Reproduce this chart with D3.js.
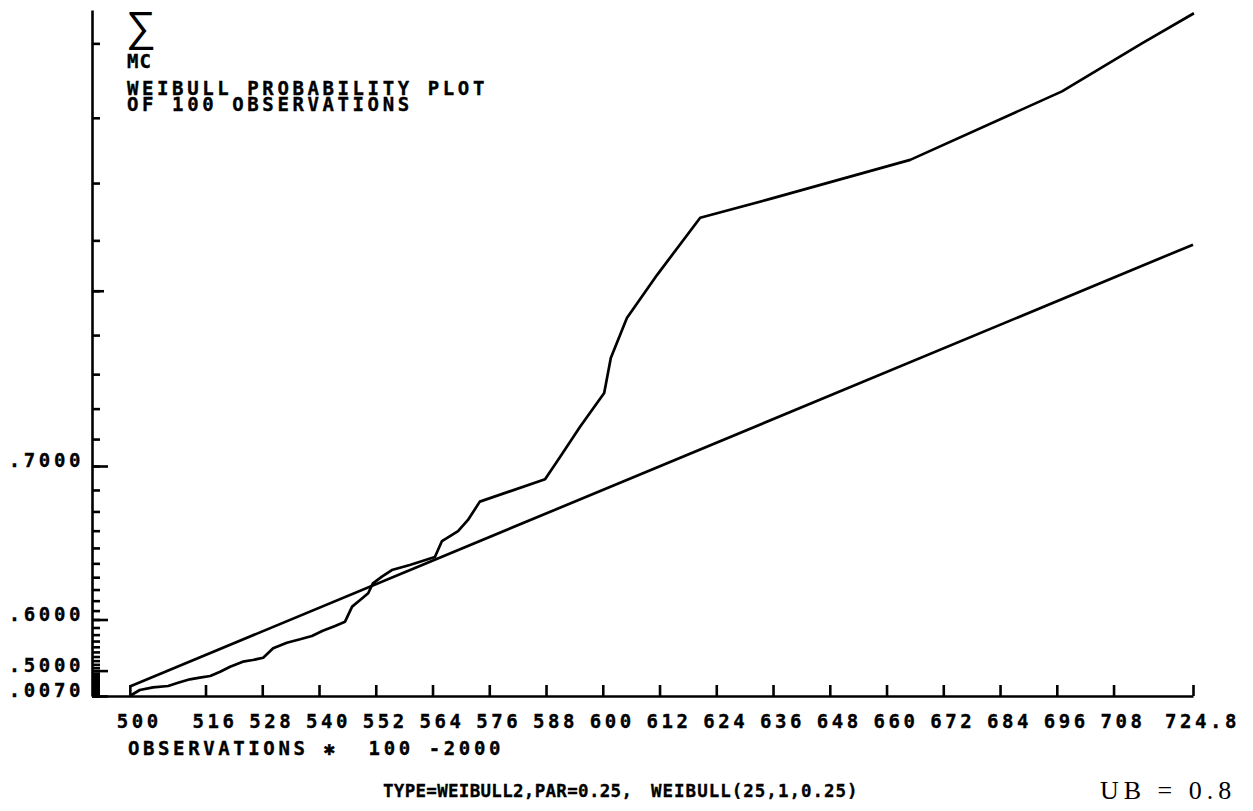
<!DOCTYPE html>
<html><head><meta charset="utf-8">
<script src="https://cdn.jsdelivr.net/npm/d3@7"></script>
<style>
html,body{margin:0;padding:0;background:#fff;}
svg{display:block;background:#fff;}
text{fill:#000;}
.lbl{font-family:"DejaVu Sans Mono",monospace;font-weight:bold;font-size:19px;letter-spacing:3.6px;stroke:#000;stroke-width:0.35px;}
.small{font-family:"DejaVu Sans Mono",monospace;font-weight:bold;font-size:17.5px;letter-spacing:0.3px;stroke:#000;stroke-width:0.3px;}
.serif{font-family:"Liberation Serif",serif;font-size:26px;letter-spacing:5px;}
.sigma{font-family:"Liberation Sans","DejaVu Sans",sans-serif;font-size:42px;}
.axis path,.axis line{stroke:#000;stroke-width:2.6px;}
</style></head><body>
<svg id="chart" width="1253" height="811"></svg>
<script>
// ---- data ----
const xTickValues = [500,516,528,540,552,564,576,588,600,612,624,636,648,660,672,684,696,708,724.8];
const xTickLabels = ["500","516","528","540","552","564","576","588","600","612","624","636","648","660","672","684","696","708","724.8"];
const yLabelValues = [0.007,0.5,0.6,0.7];
const yLabelTexts = [".0070",".5000",".6000",".7000"];
const yMediumTicks = [0.75];
const yMinorTicks = d3.range(1,80).map(i=>i/100);
// empirical curve (observation value, cumulative probability)
const curveX = [500.0,502.1,504.9,508.1,510.2,512.7,514.8,517.0,519.1,521.2,523.9,526.0,528.2,530.3,533.2,536.0,538.5,540.8,543.4,545.5,547.0,548.7,550.4,551.4,553.3,555.4,559.2,564.5,566.0,569.4,571.5,574.0,587.8,591.0,595.2,600.3,601.7,605.1,611.5,620.6,635.6,665.0,697.1,714.0,725.0];
const curveP = [0.0070,0.3700,0.4033,0.4159,0.4415,0.4621,0.4704,0.4784,0.4960,0.5130,0.5273,0.5316,0.5372,0.5571,0.5672,0.5728,0.5780,0.5856,0.5920,0.5974,0.6141,0.6206,0.6268,0.6352,0.6404,0.6453,0.6489,0.6542,0.6641,0.6698,0.6757,0.6847,0.6946,0.7036,0.7142,0.7247,0.7343,0.7440,0.7533,0.7641,0.7674,0.7737,0.7837,0.7900,0.7937];
// fitted Weibull line
const refX = [500, 724.8];
const refP = [0.4112, 0.7592];
const titleLines = ["WEIBULL PROBABILITY PLOT","OF 100 OBSERVATIONS"];
const xTitle = "OBSERVATIONS \u2731  100 -2000";
const footer = ["TYPE=WEIBULL2,PAR=0.25,","WEIBULL(25,1,0.25)","UB = 0.8"];

(function(){
// ---- scales ----
const svg = d3.select("#chart");
const mLeft = 92, mRight = 1193, mBottom = 696, mTop = 10;
const T = p => Math.exp(11*p + 6.5*Math.pow(Math.max(0,p-0.7),2));
const yT = d3.scaleLinear().domain([T(0), T(0.7)]).range([mBottom, 466]);
yT.domain([T(0), yT.invert(mTop)]).range([mBottom, mTop]);
const y = p => yT(T(p));
const x = d3.scaleLinear().domain([492, 724.8]).range([mLeft, mRight]);

// ---- x axis ----
const xAxis = d3.axisBottom(x).tickValues(xTickValues).tickSize(-11).tickSizeOuter(0)
  .tickFormat((d,i)=>xTickLabels[i]);
const gx = svg.append("g").attr("class","axis").attr("transform",`translate(0,${mBottom})`).call(xAxis);
gx.selectAll("text").attr("class","lbl").attr("dy",null).attr("y",32).attr("x",9);

// ---- y axis (transformed scale) ----
const mkY = (vals,size,domain)=>{
  const ax = d3.axisRight(yT).tickValues(vals.map(T)).tickSize(size).tickSizeOuter(0).tickFormat("");
  const g = svg.append("g").attr("class","axis").attr("transform",`translate(${mLeft},0)`).call(ax);
  if(!domain) g.select(".domain").remove();
  return g;
};
mkY(yMinorTicks,8,true);
mkY(yMediumTicks,12,false);
mkY(yLabelValues,16,false);
svg.append("g").selectAll("text").data(yLabelValues).join("text")
  .attr("class","lbl").attr("text-anchor","end")
  .attr("x",mLeft-8).attr("y",d=>y(d)+1)
  .text((d,i)=>yLabelTexts[i]);

// ---- lines ----
const line = d3.line().x(d=>x(d[0])).y(d=>y(d[1]));
svg.append("path").datum(refX.map((v,i)=>[v,refP[i]]))
  .attr("d",line).attr("fill","none").attr("stroke","#000").attr("stroke-width",2.7);
svg.append("path").datum(curveX.map((v,i)=>[v,curveP[i]]))
  .attr("d",line).attr("fill","none").attr("stroke","#000").attr("stroke-width",2.7).attr("stroke-linejoin","round");

// ---- texts ----
svg.append("text").attr("class","sigma").attr("x",126).attr("y",41).text("\u2211");
svg.append("text").attr("class","lbl").attr("x",127).attr("y",68).style("letter-spacing","1px").text("MC");
const title = svg.append("text").attr("class","lbl").attr("x",127).attr("y",95);
title.selectAll("tspan").data(titleLines).join("tspan")
  .attr("x",127).attr("dy",(d,i)=>i===0?0:16).text(d=>d);
svg.append("text").attr("class","lbl").attr("x",128).attr("y",755)
  .style("white-space","pre").text(xTitle);
svg.append("text").attr("class","small").attr("x",383).attr("y",797).text(footer[0]);
svg.append("text").attr("class","small").attr("x",651).attr("y",797).style("letter-spacing","1px").text(footer[1]);
svg.append("text").attr("class","serif").attr("x",1100).attr("y",799).text(footer[2]);
})();
</script></body></html>
